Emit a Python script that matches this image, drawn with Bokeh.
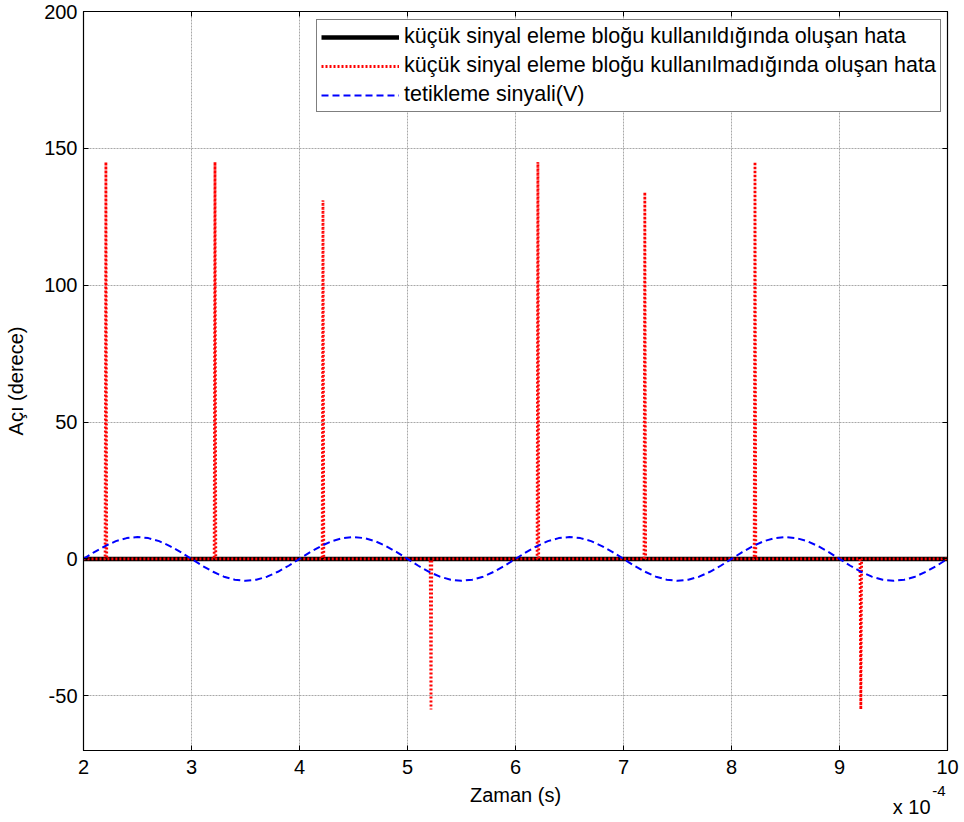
from bokeh.plotting import figure
from bokeh.models import Legend, LegendItem, FixedTicker, Range1d, Title, LinearAxis
from bokeh.embed import file_html
from bokeh.resources import INLINE

# ---- data (time in units of 1e-4 s) ----
t_start = 2.0
t_end = 10.0

# error with small-signal elimination block (stays ~0)
black_t = [2.0, 10.0]
black_y = [0.0, 0.0]

# error without small-signal elimination block: spikes
spike_t = [2.20, 3.21, 4.21, 5.21, 6.20, 7.19, 8.21, 9.19]
spike_peak = [145, 145, 131, -55, 145, 134, 145, -55]
spike_width = 0.015

# trigger signal (V), sampled every 0.1e-4 s from 2 to 10
trig_t = [2.0 + 0.1 * i for i in range(81)]
trig_y = [
    0.0, 2.5, 4.7, 6.5, 7.6, 8.0, 7.6, 6.5, 4.7, 2.5,
    0.0, -2.5, -4.7, -6.5, -7.6, -8.0, -7.6, -6.5, -4.7, -2.5,
    0.0, 2.5, 4.7, 6.5, 7.6, 8.0, 7.6, 6.5, 4.7, 2.5,
    0.0, -2.5, -4.7, -6.5, -7.6, -8.0, -7.6, -6.5, -4.7, -2.5,
    0.0, 2.5, 4.7, 6.5, 7.6, 8.0, 7.6, 6.5, 4.7, 2.5,
    0.0, -2.5, -4.7, -6.5, -7.6, -8.0, -7.6, -6.5, -4.7, -2.5,
    0.0, 2.5, 4.7, 6.5, 7.6, 8.0, 7.6, 6.5, 4.7, 2.5,
    0.0, -2.5, -4.7, -6.5, -7.6, -8.0, -7.6, -6.5, -4.7, -2.5,
    0.0,
]

x_ticks = [2, 3, 4, 5, 6, 7, 8, 9, 10]
y_ticks = [-50, 0, 50, 100, 150, 200]

labels = [
    "küçük sinyal eleme bloğu kullanıldığında oluşan hata",
    "küçük sinyal eleme bloğu kullanılmadığında oluşan hata",
    "tetikleme sinyali(V)",
]

# build red path
red_t = [t_start]
red_y = [0.0]
for ts, pk in zip(spike_t, spike_peak):
    red_t += [ts, ts + spike_width / 2, ts + spike_width]
    red_y += [0.0, pk, 0.0]
red_t.append(t_end)
red_y.append(0.0)

FONT = "Liberation Sans"
FS = "20px"

p = figure(width=964, height=822, output_backend="svg", toolbar_location=None,
           x_range=Range1d(2, 10), y_range=Range1d(-70, 200),
           min_border_left=83, min_border_right=17, min_border_top=11, min_border_bottom=72)
p.background_fill_color = "white"
p.border_fill_color = "white"
p.outline_line_color = "black"
p.outline_line_width = 1.2

r_black = p.line(black_t, black_y, color="black", line_width=4.5)
r_red = p.line(red_t, red_y, color="red", line_width=2.8, line_dash="2 2")
r_blue = p.line(trig_t, trig_y, color="blue", line_width=2, line_dash="7 4")

for ax in (p.xaxis[0], p.yaxis[0]):
    ax.major_tick_in = 5
    ax.major_tick_out = 0
    ax.minor_tick_in = 0
    ax.minor_tick_out = 0
    ax.axis_line_color = "black"
    ax.major_label_text_font = FONT
    ax.major_label_text_font_size = FS
    ax.major_label_text_color = "black"
    ax.axis_label_text_font = FONT
    ax.axis_label_text_font_size = FS
    ax.axis_label_text_font_style = "normal"
    ax.axis_label_text_color = "black"

p.xaxis[0].ticker = FixedTicker(ticks=x_ticks)
p.yaxis[0].ticker = FixedTicker(ticks=y_ticks)
p.xaxis[0].major_label_overrides = {t: str(t) for t in x_ticks}
p.yaxis[0].major_label_overrides = {t: str(t) for t in y_ticks}
p.xaxis[0].axis_label = "Zaman (s)"
p.yaxis[0].axis_label = "Açı (derece)"
p.xaxis[0].major_label_standoff = 9
p.xaxis[0].axis_label_standoff = 7
p.yaxis[0].major_label_standoff = 6
p.yaxis[0].axis_label_standoff = 14

# mirrored inward ticks on top and right (no labels)
for loc, ticks in (("above", x_ticks), ("right", y_ticks)):
    ax2 = LinearAxis(ticker=FixedTicker(ticks=ticks))
    ax2.major_tick_in = 5
    ax2.major_tick_out = 0
    ax2.minor_tick_in = 0
    ax2.minor_tick_out = 0
    ax2.axis_line_color = "black"
    ax2.major_label_overrides = {t: "" for t in ticks}
    ax2.major_label_standoff = 0
    p.add_layout(ax2, loc)

p.xgrid.ticker = FixedTicker(ticks=x_ticks)
p.ygrid.ticker = FixedTicker(ticks=y_ticks)
for g in (p.xgrid[0], p.ygrid[0]):
    g.grid_line_color = "#a8a8a8"
    g.grid_line_width = 1
    g.grid_line_dash = "2 1"

legend = Legend(items=[
    LegendItem(label=labels[0], renderers=[r_black]),
    LegendItem(label=labels[1], renderers=[r_red]),
    LegendItem(label=labels[2], renderers=[r_blue]),
], location=(233, 638))
legend.label_text_font = FONT
legend.label_text_font_size = "21.5px"
legend.label_text_color = "black"
legend.glyph_width = 78
legend.glyph_height = 24
legend.label_height = 24
legend.label_standoff = 5
legend.spacing = 4
legend.padding = 4
legend.margin = 0
legend.border_line_color = "black"
legend.border_line_width = 1
legend.background_fill_alpha = 1
p.add_layout(legend, "center")

# axis multiplier "x 10^-4" at bottom right
mult = Title(text="x 10", align="right", vertical_align="top", offset=17, standoff=-26,
             text_font=FONT, text_font_size=FS, text_font_style="normal", text_color="black")
expo = Title(text="-4", align="right", vertical_align="top", offset=2, standoff=-46,
             text_font=FONT, text_font_size="15px", text_font_style="normal", text_color="black")
p.add_layout(mult, "below")
p.add_layout(expo, "below")

open("out.html", "w").write(file_html(p, INLINE))
